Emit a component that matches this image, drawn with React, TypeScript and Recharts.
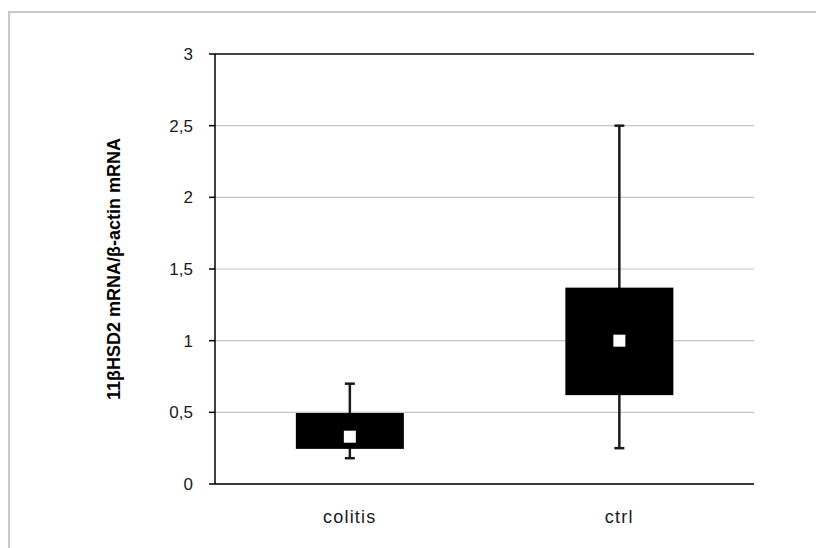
import React from 'react';
import {
  ComposedChart,
  Bar,
  XAxis,
  YAxis,
  CartesianGrid,
  ReferenceLine,
} from 'recharts';

const categories = ['colitis', 'ctrl'];
const minVals = [0.18, 0.25];
const q1Vals = [0.245, 0.62];
const medianVals = [0.33, 1.0];
const q3Vals = [0.495, 1.37];
const maxVals = [0.7, 2.5];
const yTicks = [0, 0.5, 1, 1.5, 2, 2.5, 3];
const edgeTicks = [0, 1, 2];
const yLabel = '11βHSD2 mRNA/β-actin mRNA';

const data = categories.map((c, i) => ({
  name: c,
  range: [minVals[i], maxVals[i]],
  min: minVals[i],
  q1: q1Vals[i],
  median: medianVals[i],
  q3: q3Vals[i],
  max: maxVals[i],
}));

const BoxShape = (props: any) => {
  const { x, y, width, height, payload } = props;
  if (payload == null || height == null) return null;
  const lo = payload.min;
  const hi = payload.max;
  const py = (v: number) => y + ((hi - v) / (hi - lo)) * height;
  const cx = x + width / 2;
  const cap = 5;
  const sq = 12;
  return (
    <g>
      <line x1={cx} x2={cx} y1={py(hi)} y2={py(lo)} stroke="#1a1a1a" strokeWidth={2.5} />
      <line x1={cx - cap} x2={cx + cap} y1={py(hi)} y2={py(hi)} stroke="#1a1a1a" strokeWidth={2.5} />
      <line x1={cx - cap} x2={cx + cap} y1={py(lo)} y2={py(lo)} stroke="#1a1a1a" strokeWidth={2.5} />
      <rect x={x} y={py(payload.q3)} width={width} height={py(payload.q1) - py(payload.q3)} fill="#000" />
      <rect x={cx - sq / 2} y={py(payload.median) - sq / 2} width={sq} height={sq} fill="#fff" />
    </g>
  );
};

export default function App() {
  return (
    <div
      style={{
        position: 'absolute',
        left: 0,
        top: 0,
        width: 816,
        height: 548,
        overflow: 'hidden',
        background: '#fff',
      }}
    >
      <div
        style={{
          position: 'absolute',
          left: 8,
          top: 11,
          width: 900,
          height: 700,
          border: '2px solid #c8c8c8',
          boxSizing: 'border-box',
        }}
      />
      <div style={{ position: 'absolute', left: 0, top: 0 }}>
        <ComposedChart
          width={816}
          height={548}
          data={data}
          margin={{ top: 54, right: 62, left: 0, bottom: 24 }}
          barCategoryGap="30%"
          style={{ fontFamily: '"Liberation Sans", Arial, sans-serif' }}
        >
          <CartesianGrid
            xAxisId="cat"
            vertical={false}
            stroke="#c4c4c4"
            strokeWidth={1.2}
          />
          <XAxis
            xAxisId="edge"
            type="number"
            domain={[0, 2]}
            allowDataOverflow
            ticks={edgeTicks}
            tick={false}
            height={0}
            axisLine={false}
            tickLine={{ stroke: '#000', strokeWidth: 1.5 }}
            tickSize={7}
          />
          <XAxis
            xAxisId="cat"
            dataKey="name"
            height={40}
            axisLine={{ stroke: '#000', strokeWidth: 1.5 }}
            tickLine={false}
            tickSize={0}
            tickMargin={26}
            tick={{ fill: '#1a1a1a', fontSize: 18, letterSpacing: 1.2 }}
          />
          <YAxis
            domain={[0, 3]}
            ticks={yTicks}
            width={215}
            interval={0}
            axisLine={{ stroke: '#000', strokeWidth: 1.5 }}
            tickLine={{ stroke: '#000', strokeWidth: 1.5 }}
            tickSize={6}
            tickMargin={16}
            tickFormatter={(v: number) => String(v).replace('.', ',')}
            tick={{ fill: '#1a1a1a', fontSize: 17 }}
            label={{
              value: yLabel,
              angle: -90,
              position: 'insideLeft',
              offset: 114,
              style: { textAnchor: 'middle', fontWeight: 'bold', fontSize: 18, fill: '#000' },
            }}
          />
          <ReferenceLine xAxisId="cat" y={3} stroke="#444" strokeWidth={2} />
          <ReferenceLine xAxisId="edge" x={2} stroke="#444" strokeWidth={2} />
          <Bar
            xAxisId="cat"
            dataKey="range"
            shape={<BoxShape />}
            isAnimationActive={false}
          />
        </ComposedChart>
      </div>
    </div>
  );
}
